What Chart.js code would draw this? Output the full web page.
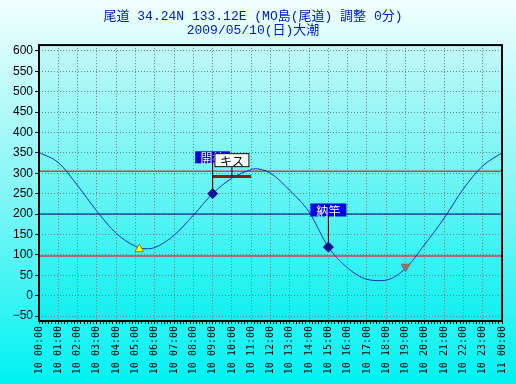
<!DOCTYPE html>
<html>
<head>
<meta charset="utf-8">
<script src="https://cdn.jsdelivr.net/npm/chart.js@4.4.1/dist/chart.umd.min.js"></script>
<style>
  html, body { margin: 0; padding: 0; background: #00f0f0; }
  #wrap { width: 516px; height: 384px; }
</style>
</head>
<body>
<div id="wrap"><canvas id="tideChart" width="516" height="384"></canvas></div>
<script>
// tide chart — 尾道 2009/05/10

const titleLines = ['尾道 34.24N 133.12E (MO島(尾道) 調整 0分)', '2009/05/10(日)大潮'];

const timeLabels = [
  '10 00:00', '10 01:00', '10 02:00', '10 03:00', '10 04:00', '10 05:00',
  '10 06:00', '10 07:00', '10 08:00', '10 09:00', '10 10:00', '10 11:00',
  '10 12:00', '10 13:00', '10 14:00', '10 15:00', '10 16:00', '10 17:00',
  '10 18:00', '10 19:00', '10 20:00', '10 21:00', '10 22:00', '10 23:00',
  '11 00:00'
];
const yTicks = [-50, 0, 50, 100, 150, 200, 250, 300, 350, 400, 450, 500, 550, 600];

// tide level (cm) by hour of day
const tideHours  = [0, 1, 2, 3, 4, 5, 5.5, 6, 7, 8, 9, 10, 11, 11.2, 12, 13, 14, 15, 16, 17, 17.7, 18, 19, 20, 21, 22, 23, 24];
const tideLevels = [351, 326, 270, 207, 153, 121, 115, 118, 148, 197, 250, 288, 309, 311, 300, 258, 205, 119, 68, 40, 37, 38, 67, 126, 190, 262, 318, 350];

// reference levels
const upperLevel = 305;
const meanLevel  = 200;
const lowerLevel = 97;

// low / high tide marks
const lowMarkHour   = 5.2;
const lowMarkLevel  = 114;
const downMarkHour  = 19;
const downMarkLevel = 71;

// fishing events
const eventHours  = [9, 15];
const eventLevels = [250, 119];
const eventNames  = ['開始', '納竿'];
const eventTagLevels = [339, 210];

const catchName  = 'キス';
const catchHours = [9, 11];
const catchLevel = 292;
const catchTagHour  = 10;
const catchTagLevel = 332;

const COLORS = {
  title : '#0020c0',
  grid  : '#5f8888',
  tide  : '#1030c0',
  red   : '#e03848',
  navy  : '#000080',
  event : '#101090',
  catch : '#8b1a1a'
};

const pts = (xs, ys) => xs.map((x, i) => ({ x: x, y: ys[i] }));
const hline = (v) => [{ x: 0, y: v }, { x: 24, y: v }];

const datasets = [
  {
    data: pts(eventHours, eventLevels),
    showLine: false,
    pointStyle: 'rectRot',
    pointRadius: 5,
    backgroundColor: COLORS.event,
    borderColor: COLORS.event,
    borderWidth: 1
  },
  {
    data: [{ x: lowMarkHour, y: lowMarkLevel }],
    showLine: false,
    pointStyle: 'triangle',
    pointRadius: 5,
    backgroundColor: '#ffff00',
    borderColor: '#8a8a00',
    borderWidth: 1
  },
  {
    data: [{ x: downMarkHour, y: downMarkLevel }],
    showLine: false,
    pointStyle: 'triangle',
    rotation: 180,
    pointRadius: 5,
    backgroundColor: '#857a7a',
    borderColor: '#a05a5a',
    borderWidth: 1
  },
  {
    data: pts(tideHours, tideLevels),
    borderColor: COLORS.tide,
    borderWidth: 1,
    pointRadius: 0,
    cubicInterpolationMode: 'monotone'
  },
  // connectors from tags
  { data: [{ x: eventHours[0], y: eventLevels[0] }, { x: eventHours[0], y: eventTagLevels[0] }], borderColor: '#000', borderWidth: 1, pointRadius: 0 },
  { data: [{ x: eventHours[1], y: eventLevels[1] }, { x: eventHours[1], y: eventTagLevels[1] }], borderColor: '#000', borderWidth: 1, pointRadius: 0 },
  { data: [{ x: catchTagHour, y: catchLevel }, { x: catchTagHour, y: catchTagLevel }], borderColor: '#000', borderWidth: 1, pointRadius: 0 },
  {
    data: catchHours.map(h => ({ x: h, y: catchLevel })),
    borderColor: COLORS.catch,
    borderWidth: 3,
    pointRadius: 0
  },
  { data: hline(upperLevel), borderColor: COLORS.red,  borderWidth: 1.5, pointRadius: 0 },
  { data: hline(meanLevel),  borderColor: COLORS.navy, borderWidth: 1,   pointRadius: 0 },
  { data: hline(lowerLevel), borderColor: COLORS.red,  borderWidth: 1.5, pointRadius: 0 }
];

// ── backgrounds + frame
const backdrop = {
  id: 'backdrop',
  beforeDraw(chart) {
    const { ctx, width, height, chartArea: a } = chart;
    ctx.save();
    let g = ctx.createLinearGradient(0, 0, 0, height);
    g.addColorStop(0, '#f2ffff');
    g.addColorStop(0.5, '#84f6f6');
    g.addColorStop(1, '#00f2f2');
    ctx.fillStyle = g;
    ctx.fillRect(0, 0, width, height);
    g = ctx.createLinearGradient(0, a.top, 0, a.bottom);
    g.addColorStop(0, '#c4f8f8');
    g.addColorStop(1, '#10f0f0');
    ctx.fillStyle = g;
    ctx.fillRect(a.left, a.top, a.right - a.left, a.bottom - a.top);
    ctx.restore();
  },
  afterDatasetsDraw(chart) {
    const { ctx, chartArea: a } = chart;
    ctx.save();
    ctx.strokeStyle = '#000';
    ctx.lineWidth = 2;
    ctx.strokeRect(a.left, a.top, a.right - a.left, a.bottom - a.top);
    ctx.restore();
  }
};

// ── tags (開始 / キス / 納竿)
function drawTag(ctx, text, cx, cy, w, h, fill, color, stroke) {
  ctx.fillStyle = fill;
  ctx.fillRect(cx - w / 2, cy - h / 2, w, h);
  if (stroke) {
    ctx.strokeStyle = stroke;
    ctx.lineWidth = 1;
    ctx.strokeRect(cx - w / 2 + 0.5, cy - h / 2 + 0.5, w - 1, h - 1);
  }
  ctx.fillStyle = color;
  ctx.fillText(text, cx, cy + 1);
}

const tags = {
  id: 'tags',
  afterDatasetsDraw(chart) {
    const { ctx, scales: { x, y } } = chart;
    ctx.save();
    ctx.font = '12px "Noto Sans CJK JP"';
    ctx.textAlign = 'center';
    ctx.textBaseline = 'middle';
    drawTag(ctx, eventNames[0], x.getPixelForValue(eventHours[0]), y.getPixelForValue(eventTagLevels[0]), 35, 12, '#0000e0', '#fff');
    drawTag(ctx, catchName, x.getPixelForValue(catchTagHour), y.getPixelForValue(catchTagLevel), 35, 14, '#fff', '#000', '#000');
    drawTag(ctx, eventNames[1], x.getPixelForValue(eventHours[1]), y.getPixelForValue(eventTagLevels[1]), 36, 13, '#0000e0', '#fff');
    ctx.restore();
  }
};

new Chart(document.getElementById('tideChart'), {
  type: 'line',
  data: { datasets: datasets },
  options: {
    responsive: false,
    animation: false,
    layout: { padding: { top: 2, right: 10, left: 0, bottom: 0 } },
    plugins: {
      legend : { display: false },
      tooltip: { enabled: false },
      title  : {
        display: true,
        text: titleLines,
        color: COLORS.title,
        font: { family: '"Liberation Mono", "Noto Sans CJK JP"', size: 13, weight: 'normal', lineHeight: 1.08 },
        padding: { top: 8, bottom: 7 }
      }
    },
    scales: {
      x: {
        type: 'linear',
        min: 0,
        max: 24,
        afterBuildTicks: (s) => {
          const t = [];
          for (let i = 0; i <= 24 * 6; i++) t.push({ value: i / 6 });
          s.ticks = t;
        },
        afterFit: (s) => { s.height = 63; },
        ticks: {
          autoSkip: false,
          minRotation: 90,
          maxRotation: 90,
          padding: 2,
          color: '#000',
          font: { family: '"DejaVu Sans Mono"', size: 10 },
          callback: (v, i) => (i % 6 === 0 ? timeLabels[i / 6] : '')
        },
        grid: {
          color: (c) => (c.index % 6 === 0 ? COLORS.grid : 'rgba(0,0,0,0)'),
          tickColor: '#000',
          tickLength: 3,
          lineWidth: 1
        },
        border: { display: false, dash: [1, 2] }
      },
      y: {
        min: -62,
        max: 614,
        afterBuildTicks: (s) => { s.ticks = yTicks.map(v => ({ value: v })); },
        afterFit: (s) => { s.width = 39; },
        ticks: {
          padding: 2,
          color: '#000',
          font: { family: '"Liberation Sans"', size: 12 },
          callback: (v) => (v < 0 ? '\u2212' + Math.abs(v) : String(v))
        },
        grid: {
          color: COLORS.grid,
          tickColor: '#000',
          tickLength: 4,
          lineWidth: 1
        },
        border: { display: false, dash: [1, 2] }
      }
    }
  },
  plugins: [backdrop, tags]
});
</script>
</body>
</html>
